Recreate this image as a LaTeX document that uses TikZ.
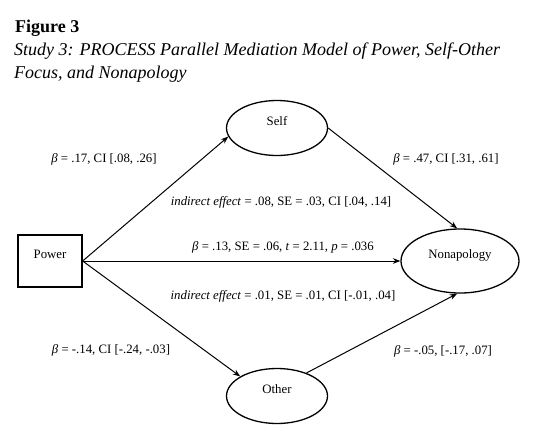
\documentclass[tikz,border=0pt]{standalone}
\usepackage{fontspec}
\setmainfont{Liberation Serif}
\usetikzlibrary{shapes.geometric, arrows.meta}
\newcommand{\bt}{\textit{β}}

\begin{document}
\begin{tikzpicture}[x=1pt, y=-1pt,
    var/.style={ellipse, draw, line width=1.3pt, minimum width=101pt, minimum height=55pt,
        inner sep=0pt, text height=8pt, text depth=14pt, font=\fontsize{12.8}{15}\selectfont},
    lbl/.style={font=\fontsize{12.8}{15}\selectfont, inner sep=0pt}]
    \useasboundingbox (0,0) rectangle (544,440);
    % caption
    \node (fig) [anchor=base west, inner sep=0pt, font=\fontsize{18}{20}\selectfont\bfseries] at (15,32) {Figure 3};
    \node (cap1) [anchor=base west, inner sep=0pt, font=\fontsize{18}{20}\selectfont\itshape] at (14,55) {Study 3: PROCESS Parallel Mediation Model of Power, Self-Other};
    \node (cap2) [anchor=base west, inner sep=0pt, font=\fontsize{18}{20}\selectfont\itshape] at (14,78) {Focus, and Nonapology};
    % variables
    \node (power) [draw, line width=1.3pt, minimum width=64pt, minimum height=52pt, inner sep=0pt,
        text height=8pt, text depth=14pt, font=\fontsize{12.8}{15}\selectfont] at (50,261) {Power};
    \node (self) [var] at (277,128) {Self};
    \node (other) [var] at (277,396) {Other};
    \node (nonap) [var, minimum width=118pt, minimum height=64pt] at (460,261) {Nonapology};
    \path [-Stealth, line width=1pt]
    (power.east) edge (self.190)
    (power.east) edge (nonap.west)
    (power.east) edge (other.152)
    (self.east) edge (nonap.95)
    (other.38) edge (nonap.265);
    % coefficients
    \node (a1) [lbl] at (104,159) {\bt{} = .17, CI [.08, .26]};
    \node (b1) [lbl] at (446,159) {\bt{} = .47, CI [.31, .61]};
    \node (ind1) [lbl] at (281,202) {\textit{indirect effect} = .08, SE = .03, CI [.04, .14]};
    \node (c) [lbl] at (283,247) {\bt{} = .13, SE = .06, \textit{t} = 2.11, \textit{p} = .036};
    \node (ind2) [lbl] at (283,296) {\textit{indirect effect} = .01, SE = .01, CI [-.01, .04]};
    \node (a2) [lbl] at (111,350) {\bt{} = -.14, CI [-.24, -.03]};
    \node (b2) [lbl] at (443,351) {\bt{} = -.05, [-.17, .07]};
\end{tikzpicture}
\end{document}
